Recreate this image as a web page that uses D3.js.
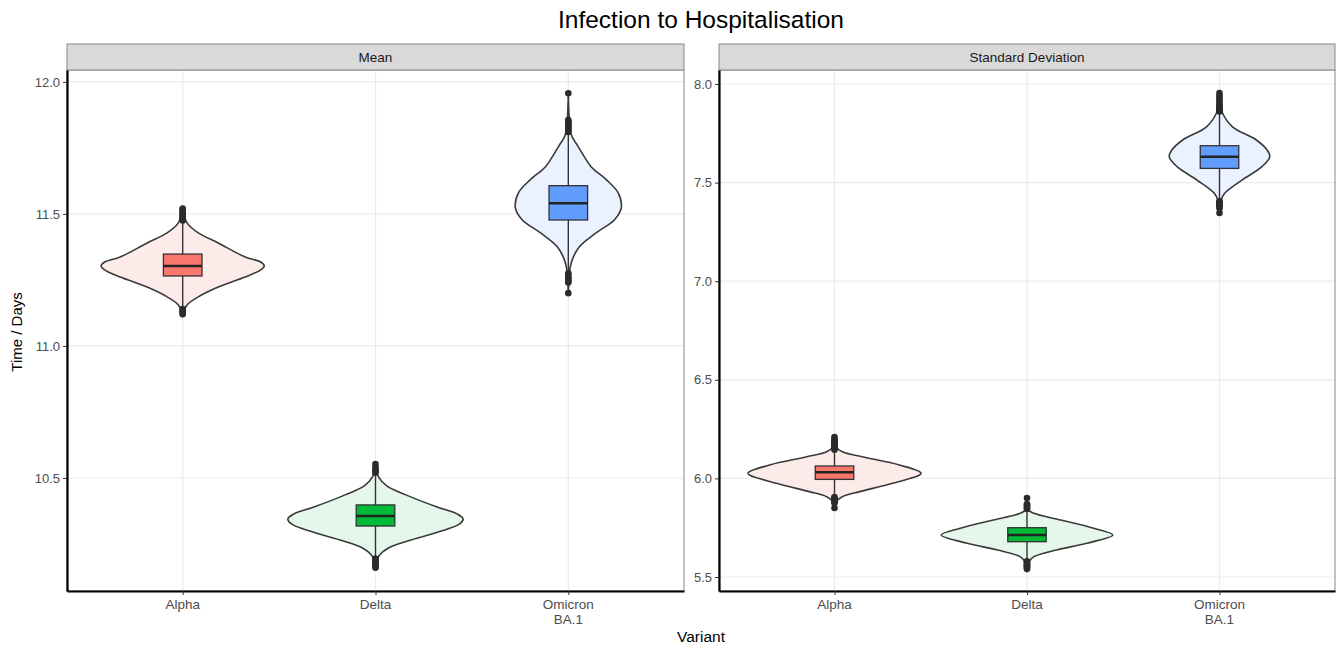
<!DOCTYPE html>
<html><head><meta charset="utf-8">
<script src="https://cdn.jsdelivr.net/npm/d3@7"></script>
<style>body{margin:0;background:#fff;font-family:"Liberation Sans",Arial,sans-serif;}</style>
</head><body>
<svg id="chart" width="1337" height="648"></svg>
<script>
// ---------- data ----------
const variants = ["Alpha", "Delta", "Omicron BA.1"];
const variantLabels = [["Alpha"], ["Delta"], ["Omicron", "BA.1"]];
const panels = ["Mean", "Standard Deviation"];
const meanTicks = [10.5, 11.0, 11.5, 12.0];
const sdTicks = [5.5, 6.0, 6.5, 7.0, 7.5, 8.0];
const meanDomain = [10.072, 12.045];
const sdDomain = [5.429, 8.071];

// violin profiles: [value, relative density]
const meanAlphaViolin = [[11.519,0],[11.466,0.05],[11.428,0.18],[11.390,0.41],[11.337,0.72],[11.318,0.90],[11.303,0.94],[11.288,0.90],[11.261,0.72],[11.223,0.41],[11.186,0.18],[11.155,0.05],[11.117,0]];
const meanDeltaViolin = [[10.553,0],[10.504,0.035],[10.470,0.13],[10.436,0.35],[10.390,0.71],[10.364,0.94],[10.345,1.01],[10.326,0.97],[10.295,0.72],[10.262,0.38],[10.235,0.15],[10.205,0.04],[10.159,0]];
const meanOmicronViolin = [[11.958,0],[11.856,0.012],[11.80,0.035],[11.754,0.115],[11.716,0.185],[11.678,0.265],[11.629,0.44],[11.580,0.575],[11.523,0.61],[11.477,0.53],[11.428,0.32],[11.375,0.125],[11.326,0.045],[11.295,0.02],[11.20,0]];
const sdAlphaViolin = [[6.21,0],[6.159,0.02],[6.135,0.09],[6.110,0.32],[6.068,0.75],[6.026,1.0],[5.975,0.67],[5.933,0.29],[5.907,0.09],[5.882,0.02],[5.850,0]];
const sdDeltaViolin = [[5.901,0],[5.840,0.02],[5.823,0.08],[5.789,0.39],[5.747,0.77],[5.713,0.99],[5.671,0.69],[5.637,0.34],[5.603,0.08],[5.576,0.02],[5.541,0]];
const sdOmicronViolin = [[7.954,0],[7.894,0.012],[7.853,0.035],[7.783,0.15],[7.716,0.425],[7.665,0.55],[7.631,0.58],[7.581,0.49],[7.513,0.26],[7.446,0.06],[7.412,0.02],[7.346,0]];

// box stats: [whiskerLow, q1, median, q3, whiskerHigh]
const meanBoxes = [[11.145,11.265,11.303,11.348,11.47],[10.20,10.318,10.356,10.398,10.515],[11.28,11.477,11.5405,11.607,11.80]];
const sdBoxes = [[5.91,5.995,6.031,6.063,6.14],[5.585,5.679,5.713,5.750,5.85],[7.41,7.572,7.631,7.687,7.855]];

// outliers
const meanAlphaOutliers = [11.475,11.48,11.485,11.49,11.495,11.50,11.505,11.51,11.515,11.52,11.14,11.135,11.13,11.125,11.12];
const meanDeltaOutliers = [10.52,10.525,10.53,10.535,10.54,10.553,10.195,10.19,10.185,10.18,10.175,10.17,10.165,10.16];
const meanOmicronOutliers = [11.81,11.815,11.82,11.825,11.83,11.835,11.84,11.845,11.85,11.855,11.957,11.275,11.27,11.26,11.255,11.25,11.245,11.24,11.2];
const sdAlphaOutliers = [6.145,6.15,6.155,6.16,6.165,6.17,6.175,6.18,6.185,6.19,6.2,6.21,5.905,5.9,5.895,5.89,5.885,5.88,5.875,5.85];
const sdDeltaOutliers = [5.845,5.85,5.855,5.86,5.865,5.87,5.9,5.58,5.575,5.57,5.565,5.56,5.555,5.55,5.545,5.54];
const sdOmicronOutliers = [7.86,7.865,7.87,7.875,7.88,7.885,7.89,7.9,7.91,7.92,7.93,7.94,7.954,7.405,7.4,7.395,7.39,7.385,7.38,7.37,7.346];

const boxColors = ["#F8766D", "#00BA38", "#619CFF"];
const violinFills = ["#FDEBEA", "#E5F7EA", "#EAF1FF"];

// ---------- layout ----------
const svg = d3.select("#chart");
const panelDefs = [
  {name: panels[0], x0: 67, x1: 684, domain: meanDomain, ticks: meanTicks,
   violins: [meanAlphaViolin, meanDeltaViolin, meanOmicronViolin], boxes: meanBoxes,
   outliers: [meanAlphaOutliers, meanDeltaOutliers, meanOmicronOutliers]},
  {name: panels[1], x0: 719, x1: 1335, domain: sdDomain, ticks: sdTicks,
   violins: [sdAlphaViolin, sdDeltaViolin, sdOmicronViolin], boxes: sdBoxes,
   outliers: [sdAlphaOutliers, sdDeltaOutliers, sdOmicronOutliers]}
];
const plotTop = 70, plotBottom = 591, stripTop = 44;

svg.append("text").attr("x", 701).attr("y", 28).attr("text-anchor", "middle")
  .attr("font-size", 24.5).attr("fill", "#000").text("Infection to Hospitalisation");

panelDefs.forEach(p => {
  const x = d3.scalePoint().domain(variants).range([p.x0, p.x1]).padding(0.6);
  const y = d3.scaleLinear().domain(p.domain).range([plotBottom, plotTop]);
  const step = x.step();
  const w = d3.scaleLinear().domain([0, 1]).range([0, 0.45 * step]);
  const g = svg.append("g");

  g.append("rect").attr("x", p.x0).attr("y", plotTop).attr("width", p.x1 - p.x0).attr("height", plotBottom - plotTop).attr("fill", "#fff");
  // grid
  g.selectAll(".gy").data(p.ticks).join("line")
    .attr("x1", p.x0).attr("x2", p.x1).attr("y1", d => y(d)).attr("y2", d => y(d))
    .attr("stroke", "#ebebeb").attr("stroke-width", 1.2);
  g.selectAll(".gx").data(variants).join("line")
    .attr("x1", d => x(d)).attr("x2", d => x(d)).attr("y1", plotTop).attr("y2", plotBottom)
    .attr("stroke", "#ebebeb").attr("stroke-width", 1.2);

  // violins
  const area = d3.area().curve(d3.curveCatmullRom.alpha(0.5));
  variants.forEach((v, i) => {
    const cx = x(v);
    area.y(d => y(d[0])).x0(d => cx - w(d[1])).x1(d => cx + w(d[1]));
    g.append("path").attr("d", area(p.violins[i]))
      .attr("fill", violinFills[i]).attr("stroke", "#3a3a3a").attr("stroke-width", 1.6);
  });

  // boxplots
  const bw = 0.2 * step;
  variants.forEach((v, i) => {
    const cx = x(v), b = p.boxes[i];
    g.append("line").attr("x1", cx).attr("x2", cx).attr("y1", y(b[0])).attr("y2", y(b[4]))
      .attr("stroke", "#333").attr("stroke-width", 1.4);
    g.selectAll(null).data(p.outliers[i]).join("circle")
      .attr("cx", cx).attr("cy", d => y(d)).attr("r", 3.3).attr("fill", "#2b2b2b");
    g.append("rect").attr("x", cx - bw / 2).attr("y", y(b[3])).attr("width", bw).attr("height", y(b[1]) - y(b[3]))
      .attr("fill", boxColors[i]).attr("stroke", "#333").attr("stroke-width", 1.3);
    g.append("line").attr("x1", cx - bw / 2).attr("x2", cx + bw / 2).attr("y1", y(b[2])).attr("y2", y(b[2]))
      .attr("stroke", "#222").attr("stroke-width", 2.6);
  });

  // border
  g.append("rect").attr("x", p.x0).attr("y", plotTop).attr("width", p.x1 - p.x0).attr("height", plotBottom - plotTop)
    .attr("fill", "none").attr("stroke", "#888").attr("stroke-width", 1);
  // strip
  g.append("rect").attr("x", p.x0).attr("y", stripTop).attr("width", p.x1 - p.x0).attr("height", plotTop - stripTop)
    .attr("fill", "#d9d9d9").attr("stroke", "#888").attr("stroke-width", 1);
  g.append("text").attr("x", (p.x0 + p.x1) / 2).attr("y", 61.5).attr("text-anchor", "middle")
    .attr("font-size", 13.5).attr("fill", "#1a1a1a").text(p.name);

  // axes
  const ya = d3.axisLeft(y).tickValues(p.ticks).tickFormat(d3.format(".1f")).tickSize(4).tickSizeOuter(0).tickPadding(3);
  const yg = g.append("g").attr("transform", `translate(${p.x0},0)`).call(ya);
  yg.select(".domain").attr("stroke", "#000").attr("stroke-width", 2.2);
  yg.selectAll(".tick line").attr("stroke", "#333");
  yg.selectAll(".tick text").attr("font-size", 13).attr("fill", "#4d4d4d").attr("font-family", "Liberation Sans, Arial, sans-serif");

  const xa = d3.axisBottom(x).tickSize(4).tickSizeOuter(0).tickFormat("");
  const xg = g.append("g").attr("transform", `translate(0,${plotBottom})`).call(xa);
  xg.select(".domain").attr("stroke", "#000").attr("stroke-width", 2.2);
  xg.selectAll(".tick line").attr("stroke", "#333");
  variants.forEach((v, i) => {
    const t = g.append("text").attr("x", x(v)).attr("y", 608.5).attr("text-anchor", "middle")
      .attr("font-size", 13.5).attr("fill", "#4d4d4d");
    variantLabels[i].forEach((line, j) => {
      t.append("tspan").attr("x", x(v)).attr("dy", j === 0 ? 0 : 15).text(line);
    });
  });
});

svg.append("text").attr("x", 701).attr("y", 642).attr("text-anchor", "middle")
  .attr("font-size", 15.5).attr("fill", "#000").text("Variant");
svg.append("text").attr("transform", "translate(22,332) rotate(-90)").attr("text-anchor", "middle")
  .attr("font-size", 15).attr("fill", "#000").text("Time / Days");
</script>
</body></html>
